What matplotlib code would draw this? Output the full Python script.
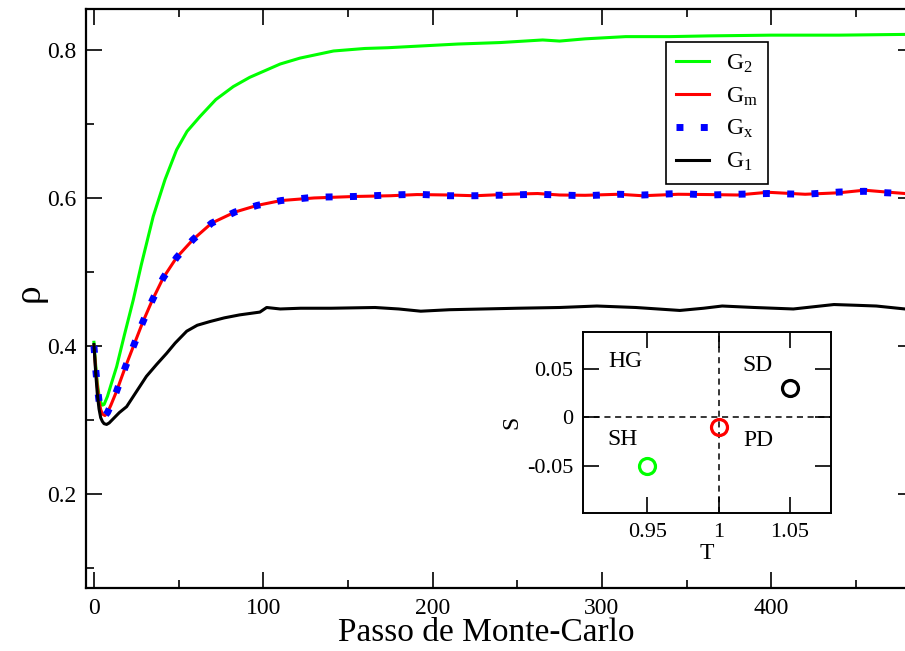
import matplotlib
matplotlib.use('Agg')
import matplotlib.pyplot as plt
from matplotlib.ticker import MultipleLocator

plt.rcParams['font.family'] = ['Liberation Serif', 'DejaVu Serif']
plt.rcParams['mathtext.fontset'] = 'custom'
plt.rcParams['mathtext.rm'] = 'Liberation Serif'
plt.rcParams['mathtext.it'] = 'Liberation Serif'
plt.rcParams['mathtext.default'] = 'regular'

# G2 (green)
t_g2 = [0, 1, 2, 3, 4, 5, 6, 8, 10, 13.4, 18, 23.2, 28, 35, 42, 48.8, 55, 62.6, 72,
        82.3, 92, 102, 110, 121.7, 141.5, 160, 173.5, 190, 215, 240, 265, 275, 290,
        314, 340, 363, 400, 440, 479]
rho_g2 = [0.405, 0.375, 0.35, 0.333, 0.324, 0.320, 0.321, 0.332, 0.347, 0.372, 0.415,
          0.462, 0.51, 0.575, 0.625, 0.665, 0.69, 0.71, 0.733, 0.7505, 0.763, 0.773,
          0.781, 0.789, 0.7986, 0.802, 0.803, 0.805, 0.808, 0.81, 0.8135, 0.812, 0.815,
          0.818, 0.818, 0.819, 0.820, 0.820, 0.821]

# Gm (red)
t_gm = [0, 1, 2, 3, 4, 5, 6.5, 8, 10, 13.4, 18.3, 23.2, 28.8, 34.5, 40.9, 48.8, 58.6,
        69.5, 83.3, 96.5, 110.5, 130, 153.8, 175, 190.8, 210, 225, 245, 262, 275, 290,
        310, 324, 345, 363, 380, 398, 420, 440, 455, 468, 479]
rho_gm = [0.40, 0.37, 0.345, 0.326, 0.314, 0.308, 0.306, 0.310, 0.320, 0.339, 0.370,
          0.399, 0.432, 0.462, 0.492, 0.5195, 0.544, 0.566, 0.581, 0.590, 0.5965, 0.600,
          0.602, 0.603, 0.6046, 0.604, 0.603, 0.605, 0.606, 0.604, 0.6036, 0.605, 0.603,
          0.605, 0.6046, 0.604, 0.6077, 0.605, 0.607, 0.6105, 0.608, 0.606]

# Gx (blue dots)
t_gx = [0, 1, 2, 3, 4, 5, 6.5, 8, 10, 13.4, 18.3, 23.2, 28.8, 34.5, 40.9, 48.8, 58.6,
        69.5, 83.3, 96.5, 110.5, 130, 153.8, 175, 190.8, 210, 225, 245, 262, 275, 290,
        310, 324, 345, 363, 380, 398, 420, 440, 455, 468, 479]
rho_gx = [0.40, 0.37, 0.345, 0.326, 0.314, 0.308, 0.306, 0.310, 0.320, 0.339, 0.370,
          0.399, 0.432, 0.462, 0.492, 0.5195, 0.544, 0.566, 0.581, 0.590, 0.5965, 0.601,
          0.602, 0.604, 0.6050, 0.603, 0.603, 0.604, 0.605, 0.604, 0.6030, 0.605, 0.604,
          0.606, 0.6040, 0.605, 0.6060, 0.605, 0.608, 0.6090, 0.607, 0.606]

# G1 (black)
t_g1 = [0, 1, 2, 3, 4, 5, 6, 7.5, 9, 12, 15, 19.3, 25, 31, 37, 42.9, 48, 54.8, 61,
        68.5, 77, 86, 98, 102, 110, 122, 140, 166, 180, 193, 210, 230, 250, 275, 297,
        320, 346, 360, 371, 390, 413, 437, 450, 462, 479]
rho_g1 = [0.402, 0.365, 0.335, 0.315, 0.303, 0.298, 0.295, 0.294, 0.296, 0.303, 0.310,
          0.318, 0.338, 0.359, 0.375, 0.390, 0.404, 0.420, 0.428, 0.433, 0.438, 0.442,
          0.4458, 0.452, 0.450, 0.451, 0.451, 0.452, 0.450, 0.447, 0.449, 0.450, 0.451,
          0.452, 0.454, 0.452, 0.448, 0.451, 0.454, 0.452, 0.450, 0.456, 0.455, 0.454,
          0.450]

# inset: game parameters
T_vals = [0.95, 1.0, 1.05]
S_vals = [-0.05, -0.01, 0.03]
pt_colors = ['#00ff00', '#ff0000', 'black']
regions = ['HG', 'SD', 'SH', 'PD']
reg_T = [0.9345, 1.0275, 0.9327, 1.0275]
reg_S = [0.057, 0.053, -0.0234, -0.024]

fig = plt.figure(figsize=(9.05, 6.51), dpi=100)
ax = fig.add_axes([0.095, 0.0968, 0.915, 0.889])

ax.plot(t_g2, rho_g2, color='#00ff00', lw=2.2, label='G$_2$')
ax.plot(t_gm, rho_gm, color='#ff0000', lw=2.2, label='G$_m$')
ax.plot(t_gx, rho_gx, color='#0000ff', lw=5, linestyle=(0, (1, 2.5)),
        dash_capstyle='butt', label='G$_x$')
ax.plot(t_g1, rho_g1, color='black', lw=2.2, label='G$_1$')

ax.set_xlim(-4.7, 484.3)
ax.set_ylim(0.073, 0.855)
ax.xaxis.set_major_locator(MultipleLocator(100))
ax.xaxis.set_minor_locator(MultipleLocator(50))
ax.yaxis.set_major_locator(MultipleLocator(0.2))
ax.yaxis.set_minor_locator(MultipleLocator(0.1))
ax.tick_params(which='both', direction='in', top=True, right=True, width=1.2,
               labelsize=17)
ax.tick_params(which='major', length=11.5, pad=7)
ax.tick_params(which='minor', length=5.8)
for s in ax.spines.values():
    s.set_linewidth(1.6)

ax.set_xlabel('Passo de Monte-Carlo', fontsize=24, va='baseline')
ax.xaxis.set_label_coords(0.483, -0.092)
ax.set_ylabel('ρ', fontsize=27, va='center', ha='center')
ax.yaxis.set_label_coords(-0.068, 0.51)

leg = ax.legend(loc='upper left', bbox_to_anchor=(0.700, 0.944), fontsize=17,
                frameon=True, fancybox=False, framealpha=1, edgecolor='black',
                handlelength=1.4, handletextpad=0.7, labelspacing=0.45,
                borderpad=0.45, borderaxespad=0)
leg.get_frame().set_linewidth(1.2)

# inset
axi = fig.add_axes([0.6439, 0.2115, 0.2744, 0.279])
axi.axvline(1.0, color='black', lw=1.1, ls=(0, (4, 3)))
axi.axhline(0.0, color='black', lw=1.1, ls=(0, (4, 3)))
for tv, sv, c in zip(T_vals, S_vals, pt_colors):
    axi.plot(tv, sv, 'o', ms=11.5, mfc='none', mec=c, mew=2.3)
for name, tv, sv in zip(regions, reg_T, reg_S):
    axi.text(tv, sv, name, fontsize=17, ha='center', va='center')
axi.set_xlim(0.9046, 1.0788)
axi.set_ylim(-0.099, 0.088)
axi.set_xticks([0.95, 1.0, 1.05])
axi.set_xticklabels(['0.95', '1', '1.05'])
axi.set_yticks([-0.05, 0, 0.05])
axi.set_yticklabels(['-0.05', '0', '0.05'])
axi.tick_params(direction='in', top=True, right=True, length=11.5, width=1.2,
                labelsize=16, pad=7)
for s in axi.spines.values():
    s.set_linewidth(1.4)
axi.set_xlabel('T', fontsize=17, labelpad=1)
axi.set_ylabel('S', fontsize=17, labelpad=3)

fig.savefig('out.png', dpi=100)
